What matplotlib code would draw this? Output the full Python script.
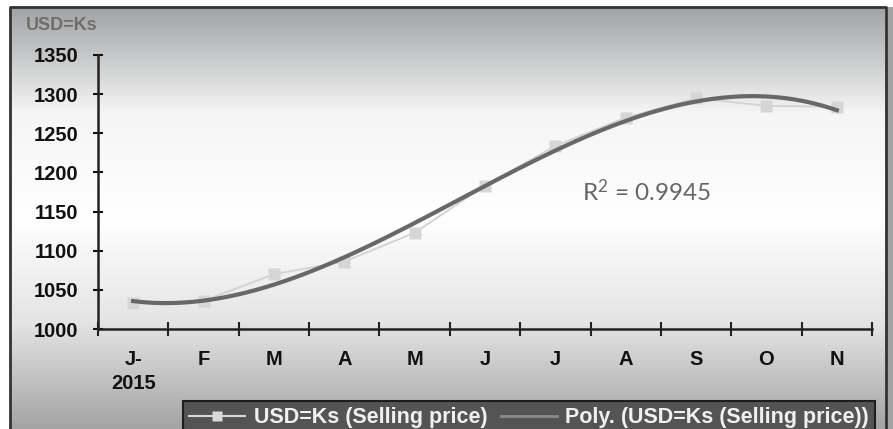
import matplotlib.pyplot as plt
import numpy as np
from matplotlib.colors import LinearSegmentedColormap
from matplotlib.lines import Line2D

# данные с графика (курс продажи USD=Ks, 2015)
months = ['J-\n2015', 'F', 'M', 'A', 'M', 'J', 'J', 'A', 'S', 'O', 'N']
selling_price = [1033, 1036, 1070, 1086, 1123, 1183, 1234, 1270, 1295, 1285, 1284]
y_ticks = [1000, 1050, 1100, 1150, 1200, 1250, 1300, 1350]
poly_degree = 3
r2_label = 'R$^{2}$ = 0.9945'

W, H = 893, 429
fig = plt.figure(figsize=(W / 100, H / 100), dpi=100)
fig.patch.set_facecolor('white')
plt.rcParams['mathtext.default'] = 'regular'

# фон с градиентом: серый - белый - серый
bg = fig.add_axes([10 / W, 0, 876 / W, 422 / H], zorder=-2)
cmap = LinearSegmentedColormap.from_list('bg', ['#a1a3a5', '#f5f5f5', '#ffffff', '#e4e4e4', '#a4a4a4'])
bg.imshow(np.linspace(0, 1, 200).reshape(-1, 1), aspect='auto', cmap=cmap, extent=[0, 1, 0, 1])
bg.set_axis_off()

# полоска справа и рамка
fig.patches.append(plt.Rectangle((886 / W, 0), 7 / W, 422 / H, transform=fig.transFigure,
                                 facecolor='#a2a2a2', edgecolor='none', zorder=-1))
fig.lines.append(Line2D([10 / W, 10 / W, 886 / W, 886 / W], [0, 422 / H, 422 / H, 0],
                        transform=fig.transFigure, color='#333333', lw=2))

ax = fig.add_axes([98 / W, (H - 329) / H, (872 - 98) / W, (329 - 55) / H])
ax.set_facecolor('none')

x = np.arange(len(months))
ax.plot(x, selling_price, color='#d2d2d2', lw=1.3, marker='s', ms=8.5,
        mfc='#d6d6d6', mec='none', zorder=2)

# полиномиальный тренд
coef = np.polyfit(x, selling_price, poly_degree)
xs = np.linspace(0, len(months) - 1, 300)
ax.plot(xs, np.polyval(coef, xs), color='#686868', lw=3, zorder=3)

ax.set_xlim(-0.5, len(months) - 0.5)
ax.set_ylim(y_ticks[0], y_ticks[-1])

for s in ['top', 'right']:
    ax.spines[s].set_visible(False)
for s in ['left', 'bottom']:
    ax.spines[s].set_color('#222222')
    ax.spines[s].set_linewidth(1.8)

font = 'Liberation Sans'
ax.set_yticks(y_ticks)
ax.set_yticklabels([str(v) for v in y_ticks], fontsize=14.5, fontweight='bold', family=font)
ax.tick_params(axis='y', direction='inout', length=7, width=1.5, pad=10.5, colors='#111111')

ax.set_xticks(np.arange(-0.5, len(months), 1.0))
ax.set_xticklabels([])
ax.tick_params(axis='x', which='major', direction='inout', length=10, width=1.5, colors='#222222')
ax.set_xticks(x, minor=True)
ax.set_xticklabels(months, minor=True, fontsize=14.5, fontweight='bold', family=font,
                   linespacing=1.35, va='top')
ax.tick_params(axis='x', which='minor', length=0, pad=15, colors='#111111')

fig.text(26 / W, 1 - 25 / H, 'USD=Ks', fontsize=13, fontweight='bold', family=font,
         color='#6e6e6e', va='center', ha='left')

fig.text(582 / W, 1 - 192 / H, r2_label, fontsize=17.5, family='Lato', color='#666666',
         va='center', ha='left')

handles = [Line2D([], [], color='#d8d8d8', lw=1.5, marker='s', ms=7, mfc='#d8d8d8', mec='none'),
           Line2D([], [], color='#8a8a8a', lw=2)]
labels = ['USD=Ks (Selling price)', 'Poly. (USD=Ks (Selling price))']
leg = fig.legend(handles, labels, loc='upper left', bbox_to_anchor=(183 / W, (H - 401) / H),
                 ncol=2, frameon=True, fancybox=False, borderaxespad=0, borderpad=0.3,
                 handlelength=2.6, handletextpad=0.4, columnspacing=0.6,
                 prop={'family': font, 'weight': 'bold', 'size': 15.5})
leg.get_frame().set_facecolor('#545454')
leg.get_frame().set_edgecolor('#1e1e1e')
leg.get_frame().set_linewidth(1.5)
leg.get_frame().set_alpha(1)
for t in leg.get_texts():
    t.set_color('#f0f0f0')

plt.savefig('out.png', dpi=100)
